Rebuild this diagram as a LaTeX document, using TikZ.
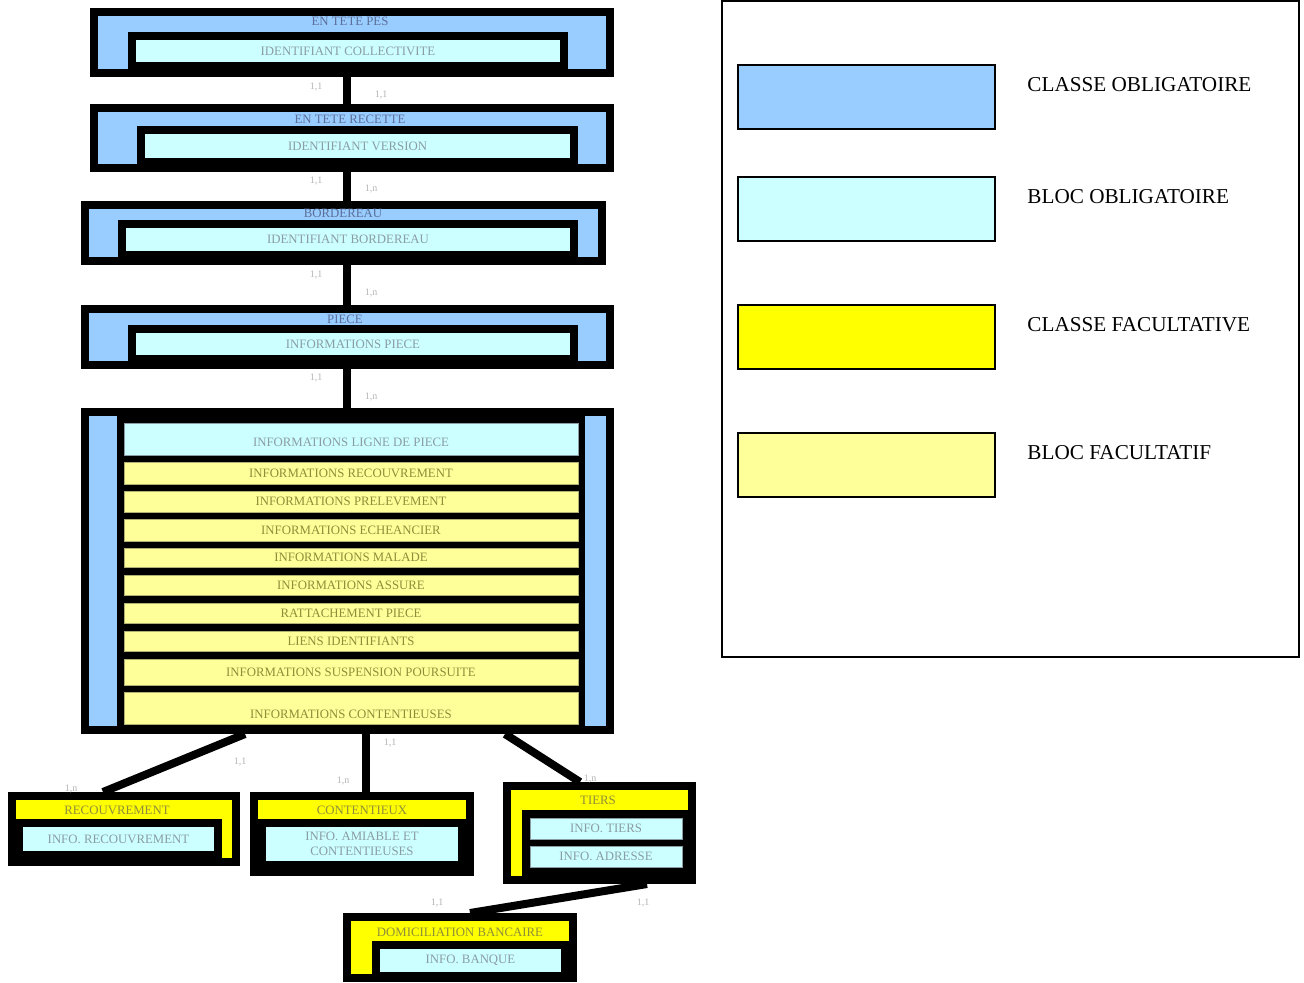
\documentclass[tikz,border=0pt]{standalone}
\usepackage{fontspec}
\setmainfont{Liberation Serif}
\usetikzlibrary{fit,backgrounds}
\definecolor{classeO}{HTML}{99CCFF}
\definecolor{blocO}{HTML}{CCFFFF}
\definecolor{classeF}{HTML}{FFFF00}
\definecolor{blocF}{HTML}{FFFF99}
\definecolor{txtO}{HTML}{5C6F98}
\definecolor{txtB}{HTML}{8A9CA4}
\definecolor{txtF}{HTML}{8E8E3A}
\definecolor{txtC}{HTML}{B4B4B4}
\newcommand{\petit}{\fontsize{6.4}{7.6}\selectfont}
\begin{document}
\begin{tikzpicture}[x=0.5pt,y=-0.5pt,
  classe/.style={draw=black,line width=4pt,fill=classeO,inner sep=0pt},
  classef/.style={draw=black,line width=4pt,fill=classeF,inner sep=0pt},
  bloc/.style={draw=black,line width=4pt,fill=blocO,inner sep=0pt,
    label={[text=txtB,font=\petit,align=center,inner sep=0pt]center:#1}},
  ligneO/.style={draw=txtB,line width=0.4pt,fill=blocO,inner sep=0pt,
    label={[text=txtB,font=\petit,inner sep=0pt]center:#1}},
  ligneF/.style={draw=txtF!70,line width=0.4pt,fill=blocF,inner sep=0pt,
    label={[text=txtF,font=\petit,inner sep=0pt]center:#1}},
  fond/.style={fill=black,inner sep=0pt},
  titreO/.style={text=txtO,font=\petit,inner sep=0pt},
  titreF/.style={text=txtF,font=\petit,inner sep=0pt},
  card/.style={text=txtC,font=\fontsize{5}{6}\selectfont,inner sep=0pt},
  lien/.style={line width=4pt},
  legende/.style={draw=black,line width=0.9pt,inner sep=0pt},
  texteleg/.style={anchor=west,inner sep=0pt,font=\fontsize{10.6}{12.5}\selectfont}]
\useasboundingbox (0,0) rectangle (1304,982);

\node[classe, fit={(94,12) (610,73)}] (pes) {};
\node[bloc={IDENTIFIANT COLLECTIVITE}, fit={(132,36) (564,66)}] (idcoll) {};
\node[titreO] (tpes) at (350,21) {EN TETE PES};

\node[classe, fit={(94,108) (610,168)}] (recette) {};
\node[bloc={IDENTIFIANT VERSION}, fit={(141,130) (574,162)}] (idvers) {};
\node[titreO] (trecette) at (350,119) {EN TETE RECETTE};

\node[classe, fit={(85,205) (602,261)}] (bord) {};
\node[bloc={IDENTIFIANT BORDEREAU}, fit={(122,224) (574,255)}] (idbord) {};
\node[titreO] (tbord) at (343,213) {BORDEREAU};

\node[classe, fit={(85,309) (610,365)}] (piece) {};
\node[bloc={INFORMATIONS PIECE}, fit={(132,329) (574,359)}] (infopiece) {};
\node[titreO] (tpiece) at (345,319) {PIECE};

\node[classe, fit={(85,412) (610,730)}] (lignepiece) {};
\node[fond, fit={(117,412) (585,730)}] (contenu) {};
\node[ligneO={}, fit={(124,423) (578,455)}] (l1) {};
\node[titreO, text=txtB] (tl1a) at (351,442) {INFORMATIONS LIGNE DE PIECE};
\node[ligneF={INFORMATIONS RECOUVREMENT}, fit={(124,462) (578,484)}] (l2) {};
\node[ligneF={INFORMATIONS PRELEVEMENT}, fit={(124,491) (578,512)}] (l3) {};
\node[ligneF={INFORMATIONS ECHEANCIER}, fit={(124,519) (578,541)}] (l4) {};
\node[ligneF={INFORMATIONS MALADE}, fit={(124,548) (578,567)}] (l5) {};
\node[ligneF={INFORMATIONS ASSURE}, fit={(124,575) (578,595)}] (l6) {};
\node[ligneF={RATTACHEMENT PIECE}, fit={(124,603) (578,623)}] (l7) {};
\node[ligneF={LIENS IDENTIFIANTS}, fit={(124,631) (578,651)}] (l8) {};
\node[ligneF={INFORMATIONS SUSPENSION POURSUITE}, fit={(124,659) (578,685)}] (l9) {};
\node[ligneF={}, fit={(124,692) (578,724)}] (l10) {};
\node[titreF] (tl10) at (351,714) {INFORMATIONS CONTENTIEUSES};

\node[classef, fit={(12,796) (236,862)}] (recouvr) {};
\node[bloc={INFO. RECOUVREMENT}, fit={(19,823) (218,855)}] (inforecouvr) {};
\node[titreF] (trecouvr) at (117,810) {RECOUVREMENT};

\node[classef, fit={(254,796) (470,872)}] (contentieux) {};
\node[bloc={INFO. AMIABLE ET\\CONTENTIEUSES}, fit={(262,823) (462,865)}] (infocont) {};
\node[titreF] (tcont) at (362,810) {CONTENTIEUX};

\node[classef, fit={(507,786) (692,880)}] (tiers) {};
\node[fond, fit={(522,810) (691,878)}] (blocstiers) {};
\node[ligneO={INFO. TIERS}, fit={(530,818) (682,839)}] (infotiers) {};
\node[ligneO={INFO. ADRESSE}, fit={(530,846) (682,867)}] (infoadr) {};
\node[titreF] (ttiers) at (598,800) {TIERS};

\node[classef, fit={(347,917) (573,978)}] (domicil) {};
\node[bloc={INFO. BANQUE}, fit={(376,945) (565,976)}] (infobanque) {};
\node[titreF] (tdomicil) at (460,932) {DOMICILIATION BANCAIRE};

\coordinate (axe) at (347,0);
\coordinate (a1) at (245,0);
\coordinate (b1) at (103,0);
\coordinate (a2) at (366,0);
\coordinate (a3) at (505,0);
\coordinate (b3) at (580,0);
\coordinate (a4) at (647,0);
\coordinate (b4) at (470,0);
\begin{scope}[on background layer]
\draw[lien] (pes.south -| axe) -- (recette.north -| axe);
\draw[lien] (recette.south -| axe) -- (bord.north -| axe);
\draw[lien] (bord.south -| axe) -- (piece.north -| axe);
\draw[lien] (piece.south -| axe) -- (lignepiece.north -| axe);
\draw[lien] (lignepiece.south -| a1) -- (recouvr.north -| b1);
\draw[lien] (lignepiece.south -| a2) -- (contentieux.north -| a2);
\draw[lien] (lignepiece.south -| a3) -- (tiers.north -| b3);
\draw[lien] (tiers.south -| a4) -- (domicil.north -| b4);
\end{scope}

\node[card] (c1) at (316,87) {1,1};
\node[card] (c2) at (381,95) {1,1};
\node[card] (c3) at (316,181) {1,1};
\node[card] (c4) at (371,189) {1,n};
\node[card] (c5) at (316,275) {1,1};
\node[card] (c6) at (371,293) {1,n};
\node[card] (c7) at (316,378) {1,1};
\node[card] (c8) at (371,397) {1,n};
\node[card] (c9) at (390,743) {1,1};
\node[card] (c10) at (240,762) {1,1};
\node[card] (c11) at (71,789) {1,n};
\node[card] (c12) at (343,781) {1,n};
\node[card] (c13) at (590,779) {1,n};
\node[card] (c14) at (437,903) {1,1};
\node[card] (c15) at (643,903) {1,1};

\node[legende, line width=0.8pt, fit={(722,1) (1299,657)}] (cadre) {};
\node[legende, fill=classeO, fit={(738,65) (995,129)}] (lg1) {};
\node[legende, fill=blocO, fit={(738,177) (995,241)}] (lg2) {};
\node[legende, fill=classeF, fit={(738,305) (995,369)}] (lg3) {};
\node[legende, fill=blocF, fit={(738,433) (995,497)}] (lg4) {};
\node[texteleg] (tl1) at (1027,85) {CLASSE OBLIGATOIRE};
\node[texteleg] (tl2) at (1027,197) {BLOC OBLIGATOIRE};
\node[texteleg] (tl3) at (1027,325) {CLASSE FACULTATIVE};
\node[texteleg] (tl4) at (1027,453) {BLOC FACULTATIF};
\end{tikzpicture}
\end{document}
